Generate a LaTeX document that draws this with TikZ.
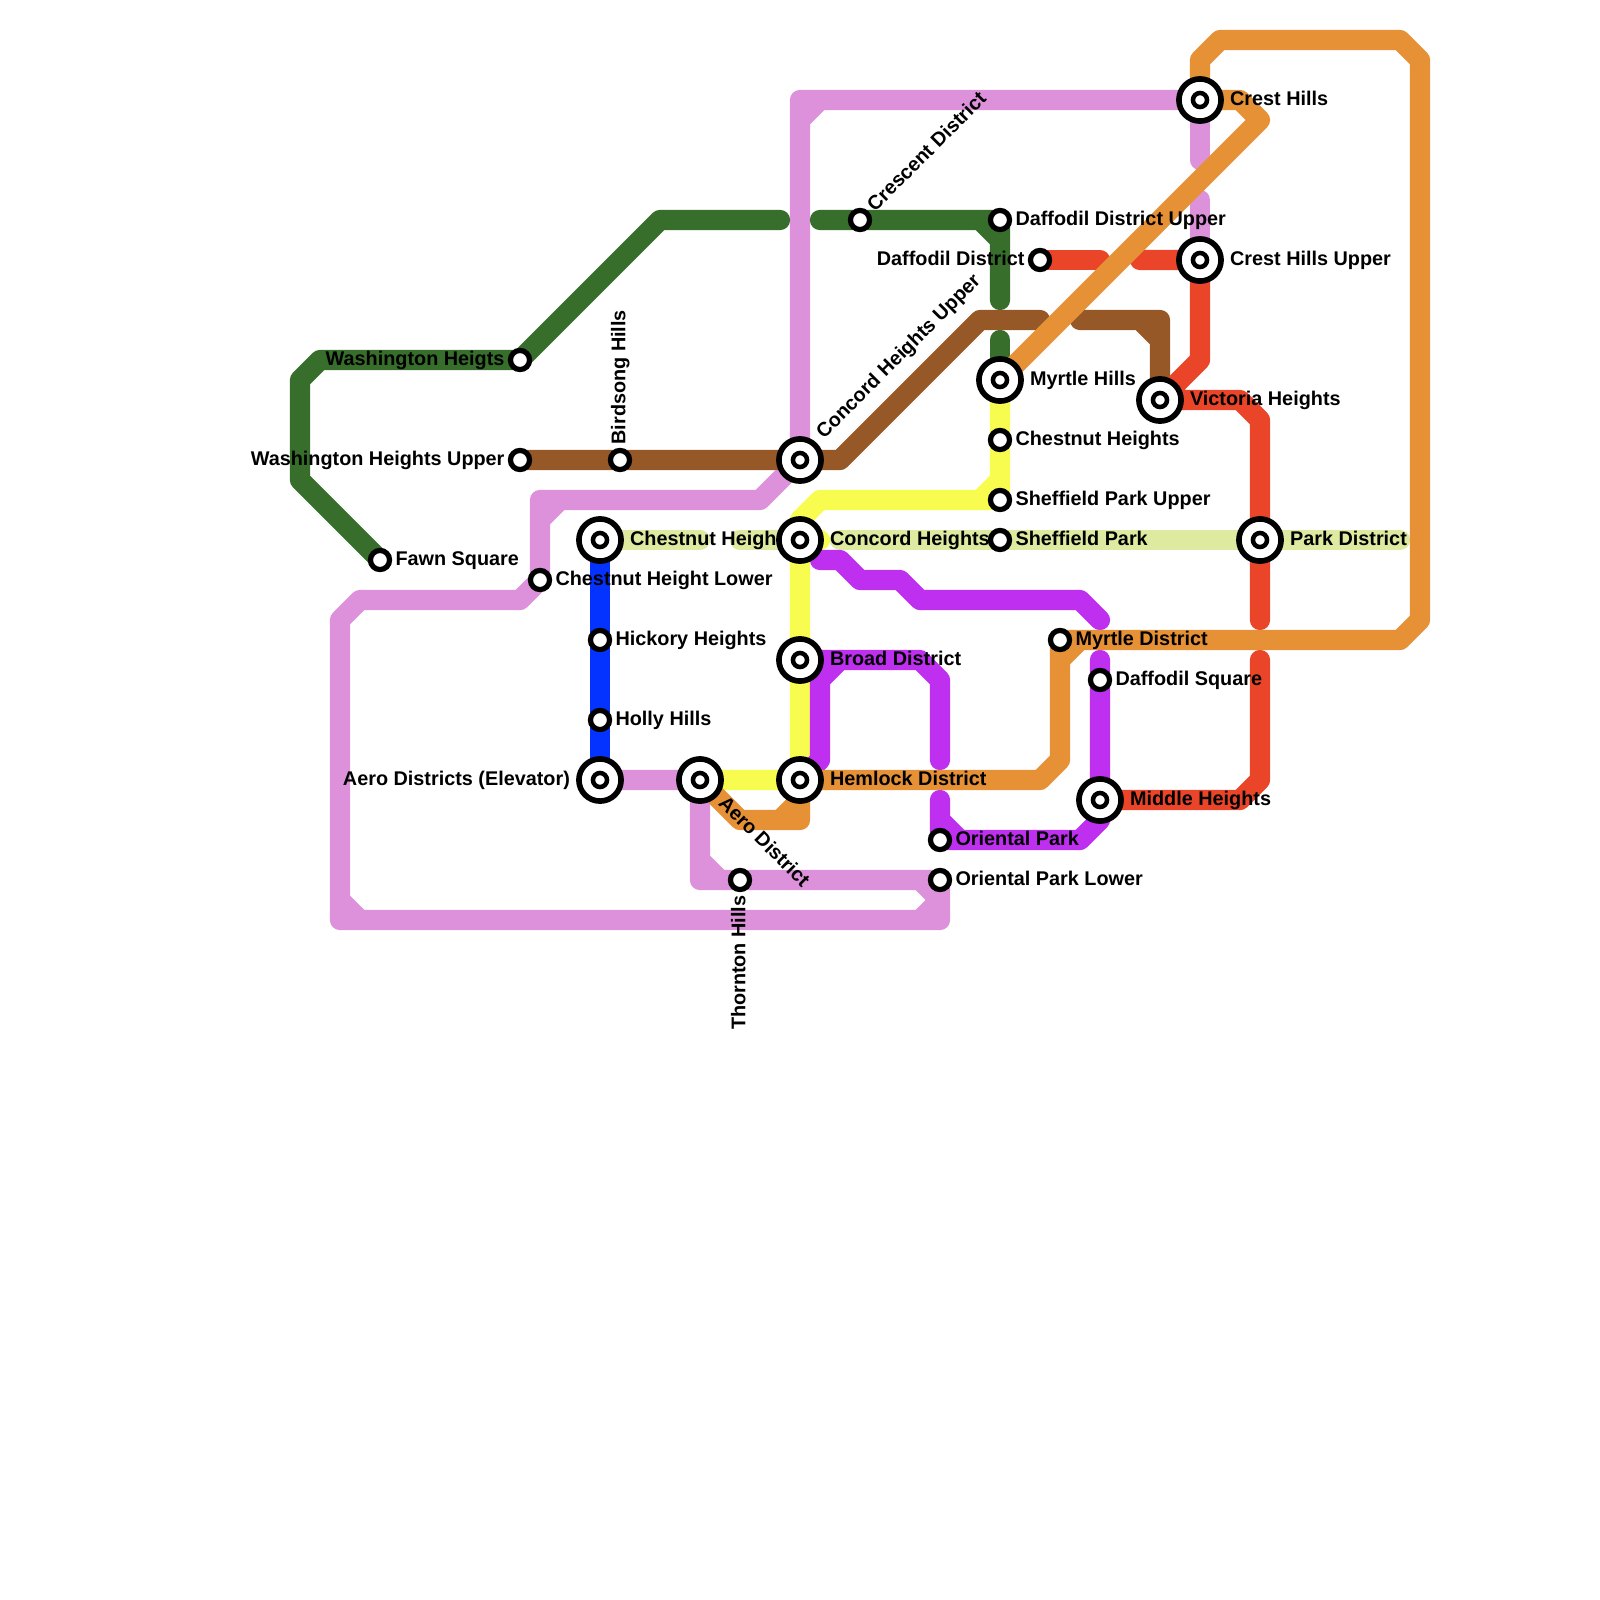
\documentclass[tikz,border=0pt]{standalone}
\usepackage{fontspec}
\setmainfont{Liberation Sans}
\usetikzlibrary{positioning,backgrounds}
\definecolor{lnGreen}{RGB}{56,110,43}
\definecolor{lnBrown}{RGB}{150,88,38}
\definecolor{lnPink}{RGB}{221,145,219}
\definecolor{lnPale}{RGB}{222,234,160}
\definecolor{lnYellow}{RGB}{248,252,78}
\definecolor{lnOrange}{RGB}{231,145,55}
\definecolor{lnRed}{RGB}{234,69,40}
\definecolor{lnBlue}{RGB}{4,51,255}
\definecolor{lnPurple}{RGB}{191,47,240}
\tikzset{
  mline/.style={line width=7.2pt,line cap=round,line join=round},
  hub/.style={circle,draw=black,fill=white,line width=2pt,minimum size=15pt,inner sep=0pt,
    path picture={\draw[line width=1.6pt] (path picture bounding box.center) circle (2.5pt);}},
  stop/.style={circle,draw=black,fill=white,line width=1.86pt,minimum size=6.8pt,inner sep=0pt},
  lbl/.style={font=\fontsize{7.05pt}{8pt}\selectfont\bfseries,inner sep=0pt,text height=5pt,text depth=1.25pt},
}
\begin{document}
\begin{tikzpicture}[x=0.25cm,y=-0.25cm,node distance=1pt]
        \useasboundingbox (0,0) rectangle (80,80);
        % stations
        \node[stop] (washheigts) at (26,18) {};
        \node[stop] (washupper) at (26,23) {};
        \node[stop] (birdsong) at (31,23) {};
        \node[stop] (fawn) at (19,28) {};
        \node[stop] (chestlower) at (27,29) {};
        \node[stop] (hickory) at (30,32) {};
        \node[stop] (holly) at (30,36) {};
        \node[stop] (thornton) at (37,44) {};
        \node[stop] (oriental) at (47,42) {};
        \node[stop] (orientallower) at (47,44) {};
        \node[stop] (daffsquare) at (55,34) {};
        \node[stop] (myrtledist) at (53,32) {};
        \node[stop] (sheffield) at (50,27) {};
        \node[stop] (sheffupper) at (50,25) {};
        \node[stop] (chestheights) at (50,22) {};
        \node[stop] (daffdist) at (52,13) {};
        \node[stop] (daffupper) at (50,11) {};
        \node[stop] (crescent) at (43,11) {};
        \node[hub] (aeroelev) at (30,39) {};
        \node[hub] (chestheigh) at (30,27) {};
        \node[hub] (concord) at (40,27) {};
        \node[hub] (concordupper) at (40,23) {};
        \node[hub] (broad) at (40,33) {};
        \node[hub] (hemlock) at (40,39) {};
        \node[hub] (aerodist) at (35,39) {};
        \node[hub] (middle) at (55,40) {};
        \node[hub] (park) at (63,27) {};
        \node[hub] (myrtlehills) at (50,19) {};
        \node[hub] (victoria) at (58,20) {};
        \node[hub] (crestupper) at (60,13) {};
        \node[hub] (crest) at (60,5) {};
        % labels
        \node[lbl,left=1pt of washheigts] (lwashheigts) {Washington Heigts};
        \node[lbl,left=1pt of washupper] (lwashupper) {Washington Heights Upper};
        \node[lbl,above=1pt of birdsong,anchor=west,rotate=90] (lbirdsong) {Birdsong Hills};
        \node[lbl,right=1pt of fawn] (lfawn) {Fawn Square};
        \node[lbl,right=1pt of chestlower] (lchestlower) {Chestnut Height Lower};
        \node[lbl,right=1pt of hickory] (lhickory) {Hickory Heights};
        \node[lbl,right=1pt of holly] (lholly) {Holly Hills};
        \node[lbl,below=1pt of thornton,anchor=east,rotate=90] (lthornton) {Thornton Hills};
        \node[lbl,right=1pt of oriental] (loriental) {Oriental Park};
        \node[lbl,right=1pt of orientallower] (lorientallower) {Oriental Park Lower};
        \node[lbl,right=1pt of daffsquare] (ldaffsquare) {Daffodil Square};
        \node[lbl,right=1pt of myrtledist] (lmyrtledist) {Myrtle District};
        \node[lbl,right=1pt of sheffield] (lsheffield) {Sheffield Park};
        \node[lbl,right=1pt of sheffupper] (lsheffupper) {Sheffield Park Upper};
        \node[lbl,right=1pt of chestheights] (lchestheights) {Chestnut Heights};
        \node[lbl,left=1pt of daffdist] (ldaffdist) {Daffodil District};
        \node[lbl,right=1pt of daffupper] (ldaffupper) {Daffodil District Upper};
        \node[lbl,rotate=45,anchor=west] (lcrescent) at ([shift={(0.55,-0.55)}]crescent.center) {Crescent District};
        \node[lbl,left=2pt of aeroelev] (laeroelev) {Aero Districts (Elevator)};
        \node[lbl,right=2pt of chestheigh] (lchestheigh) {Chestnut Heigh};
        \node[lbl,right=2pt of concord] (lconcord) {Concord Heights};
        \node[lbl,rotate=45,anchor=west] (lconcordupper) at ([shift={(1,-1.2)}]concordupper.center) {Concord Heights Upper};
        \node[lbl,right=2pt of broad] (lbroad) {Broad District};
        \node[lbl,right=2pt of hemlock] (lhemlock) {Hemlock District};
        \node[lbl,rotate=-45,anchor=west] (laerodist) at ([shift={(1.05,1)}]aerodist.center) {Aero District};
        \node[lbl,right=2pt of middle] (lmiddle) {Middle Heights};
        \node[lbl,right=2pt of park] (lpark) {Park District};
        \node[lbl,right=2pt of myrtlehills] (lmyrtlehills) {Myrtle Hills};
        \node[lbl,right=2pt of victoria] (lvictoria) {Victoria Heights};
        \node[lbl,right=2pt of crestupper] (lcrestupper) {Crest Hills Upper};
        \node[lbl,right=2pt of crest] (lcrest) {Crest Hills};
        % lines
        \begin{scope}[on background layer]
        \draw[mline,lnPink] (crest.center) -- (40,5) -- (concordupper.center) -- (38,25) -- (27,25) -- (chestlower.center) -- (26,30) -- (18,30) -- (17,31) -- (17,46) -- (47,46) -- (orientallower.center) -- (35,44) -- (aerodist.center) -- (aeroelev.center)
            (40,6) -- (41,5) (27,26) -- (28,25) (17,45) -- (18,46) (46,44) -- (47,45) -- (46,46) (35,43) -- (36,44);
        \draw[mline,lnPink] (crest.center) -- (60,8) (60,10) -- (crestupper.center);
        \draw[mline,lnGreen] (fawn.center) -- (15,24) -- (15,19) -- (16,18) -- (washheigts.center) -- (33,11) -- (39,11);
        \draw[mline,lnGreen] (41,11) -- (daffupper.center) -- (50,15) (49,11) -- (50,12);
        \draw[mline,lnGreen] (50,17) -- (myrtlehills.center);
        \draw[mline,lnBrown] (washupper.center) -- (42,23) -- (49,16) -- (52,16);
        \draw[mline,lnBrown] (54,16) -- (58,16) -- (victoria.center) (57,16) -- (58,17);
        \draw[mline,lnPale] (chestheigh.center) -- (35,27);
        \draw[mline,lnPale] (37,27) -- (concord.center);
        \draw[mline,lnPale] (42,27) -- (70,27);
        \draw[mline,lnYellow] (aerodist.center) -- (hemlock.center) -- (concord.center) -- (40,26) -- (41,25) -- (sheffupper.center) -- (myrtlehills.center) (49,25) -- (50,24) (concord.center) -- (41,27);
        \draw[mline,lnRed] (daffdist.center) -- (55,13);
        \draw[mline,lnRed] (57,13) -- (crestupper.center) -- (60,18) -- (victoria.center) -- (62,20) -- (63,21) -- (63,31);
        \draw[mline,lnRed] (63,33) -- (63,39) -- (62,40) -- (middle.center);
        \draw[mline,lnBlue] (chestheigh.center) -- (aeroelev.center);
        \draw[mline,lnPurple] (41,28) -- (42,28) -- (43,29) -- (45,29) -- (46,30) -- (54,30) -- (55,31);
        \draw[mline,lnPurple] (hemlock.center) -- (41,38) -- (41,34) -- (42,33) -- (46,33) -- (47,34) -- (47,38) (broad.center) -- (42,33);
        \draw[mline,lnPurple] (47,40) -- (oriental.center) -- (54,42) -- (55,41) -- (middle.center) -- (55,33) (47,41) -- (48,42);
        \draw[mline,lnOrange] (crest.center) -- (60,3) -- (61,2) -- (70,2) -- (71,3) -- (71,31) -- (70,32) -- (myrtledist.center) -- (53,38) -- (52,39) -- (hemlock.center) -- (40,41) -- (37,41) -- (aerodist.center) (53,33) -- (54,32) (39,41) -- (40,40);
        \draw[mline,lnOrange] (crest.center) -- (62,5) -- (63,6) -- (myrtlehills.center);
        \end{scope}
\end{tikzpicture}
\end{document}
